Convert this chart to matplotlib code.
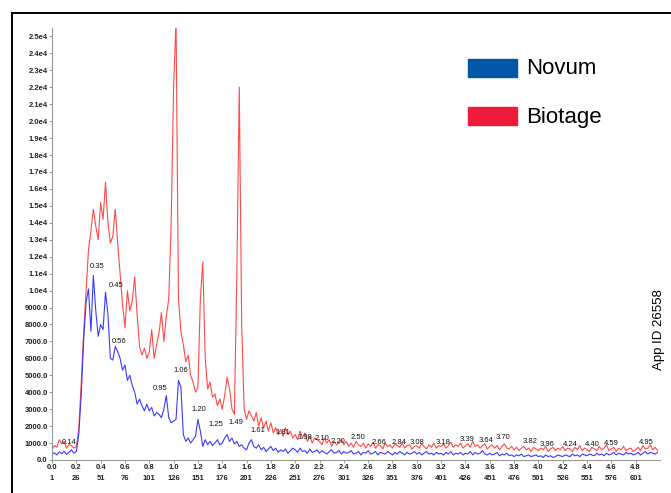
import numpy as np
import matplotlib.pyplot as plt
from matplotlib.lines import Line2D
from matplotlib.patches import Rectangle

plt.rcParams['font.family'] = ['Liberation Sans', 'DejaVu Sans']

# elution volume axis (CV), one reading every 0.02
step = 0.02

novum = [
    350, 420, 300, 480, 380, 520, 330, 450, 600, 400,
    500, 1500, 3800, 7000, 9300, 10100, 7600, 10900, 8800, 7300,
    8000, 7700, 9900, 8600, 6000, 5900, 6700, 6400, 6000, 5300,
    5600, 4700, 5000, 4400, 4000, 3300, 3600, 3200, 2900, 3300,
    2900, 3100, 2600, 2800, 2700, 2500, 3000, 3800, 2500, 2200,
    2300, 2400, 4700, 4300, 1500, 1100, 1300, 1000, 1200, 1400,
    2400, 1700, 800, 1200, 900, 1100, 850, 1000, 1200, 900,
    1000, 1300, 1500, 1100, 1300, 950, 1100, 800, 900, 700,
    600, 1000, 1200, 800, 700, 900, 600, 750, 500, 650,
    800, 550, 700, 450, 600, 500, 650, 400, 550, 700,
    600, 450, 700, 500, 550, 400, 650, 450, 500, 600,
    400, 550, 450, 350, 500, 600, 400, 450, 550, 350,
    500, 400, 450, 550, 350, 400, 500, 300, 450, 400,
    550, 350, 400, 500, 300, 450, 400, 350, 500, 400,
    300, 450, 350, 500, 400, 300, 450, 350, 400, 500,
    350, 450, 300, 400, 500, 350, 400, 300, 450, 350,
    400, 300, 450, 350, 500, 300, 400, 350, 450, 300,
    400, 350, 500, 300, 450, 350, 400, 550, 350, 300,
    400, 300, 350, 450, 250, 350, 300, 400, 250, 300,
    200, 300, 250, 350, 200, 250, 300, 200, 250, 300,
    200, 250, 150, 300, 200, 250, 150, 200, 300, 250,
    200, 300, 250, 200, 350, 250, 300, 200, 350, 300,
    250, 350, 300, 250, 400, 300, 350, 250, 400, 300,
    350, 450, 300, 400, 350, 300, 450, 350, 400, 300,
    350, 450, 300, 400, 500, 350, 450, 400, 350, 450,
]

biotage = [
    600, 850, 750, 1200, 950, 1100, 700, 900, 850, 700,
    800, 1800, 4500, 7500, 10000, 12400, 13500, 14800, 13800, 13000,
    15200, 14200, 16400, 14000, 12800, 13200, 14800, 12800, 11000, 9200,
    7800, 10000, 8800, 9400, 10800, 8600, 6700, 6200, 6600, 6000,
    6400, 7700, 6000, 6800, 7500, 8700, 7000, 8500, 9500, 14000,
    22000, 26000, 9500, 7600, 6800, 5800, 6200, 5000, 4600, 4000,
    4300, 9500, 11700, 6000, 4200, 4600, 3700, 3900, 3200, 3600,
    3000, 3800, 4900, 4200, 3000, 2700, 11000, 22000, 8000, 3000,
    2400, 2900, 2600, 2300, 2800, 2000, 2500, 1900, 2300, 1700,
    2200, 1600, 1900, 1500, 1800, 1400, 1900, 1500, 1700, 1300,
    1500, 1200, 1700, 1300, 1600, 1100, 1400, 1000, 1300, 1200,
    1100, 900, 1300, 1000, 1200, 800, 1100, 900, 1000, 1200,
    900, 1100, 800, 1000, 750, 1100, 900, 800, 1000, 700,
    950, 800, 1050, 700, 900, 850, 650, 1000, 800, 900,
    700, 950, 850, 750, 1000, 700, 850, 900, 650, 800,
    850, 700, 950, 800, 650, 900, 750, 1000, 700, 850,
    800, 950, 700, 850, 1050, 750, 900, 800, 1000, 700,
    850, 950, 750, 1100, 800, 900, 700, 850, 950, 650,
    800, 900, 700, 850, 600, 800, 950, 700, 650, 800,
    600, 750, 550, 700, 800, 600, 700, 500, 750, 650,
    550, 700, 600, 800, 500, 650, 750, 550, 700, 600,
    800, 550, 700, 650, 500, 750, 600, 850, 550, 700,
    600, 500, 750, 650, 550, 800, 600, 700, 900, 550,
    650, 750, 500, 700, 600, 800, 550, 650, 700, 500,
    600, 750, 550, 850, 650, 700, 900, 600, 750, 550,
]

# peak annotations: label, x, y
peak_labels = ['0.14', '0.35', '0.45', '0.56', '0.95', '1.06', '1.20', '1.25',
               '1.49', '1.61', '1.81', '1.98', '2.10', '2.20', '2.50', '2.66',
               '2.84', '3.08', '3.18', '3.39', '3.64', '3.70', '3.82', '3.96',
               '4.24', '4.40', '4.59', '4.95']
peak_x = [0.14, 0.37, 0.53, 0.55, 0.89, 1.06, 1.21, 1.35, 1.51, 1.69, 1.90,
          2.08, 2.22, 2.35, 2.52, 2.69, 2.85, 3.00, 3.22, 3.41, 3.57, 3.71,
          3.93, 4.07, 4.26, 4.44, 4.60, 4.89]
peak_y = [800, 11200, 10100, 6800, 4000, 5100, 2800, 1900, 2000, 1550, 1400,
          1150, 1050, 900, 1150, 850, 850, 800, 850, 1000, 950, 1100, 900, 700,
          700, 700, 750, 850]

x_ticks = [0.0, 0.2, 0.4, 0.6, 0.8, 1.0, 1.2, 1.4, 1.6, 1.8, 2.0, 2.2, 2.4,
           2.6, 2.8, 3.0, 3.2, 3.4, 3.6, 3.8, 4.0, 4.2, 4.4, 4.6, 4.8]
fractions = [1, 26, 51, 76, 101, 126, 151, 176, 201, 226, 251, 276, 301,
             326, 351, 376, 401, 426, 451, 476, 501, 526, 551, 576, 601]

x = np.arange(len(novum)) * step

fig = plt.figure(figsize=(6.71, 4.93), dpi=100)
ax = fig.add_axes([52/671, 1 - 460/493, 608/671, 432/493])

ax.plot(x, biotage, color='#ff4a4a', lw=0.8)
ax.plot(x, novum, color='#3a3aff', lw=0.8)

for lab, px, py in zip(peak_labels, peak_x, peak_y):
    ax.text(px, py, lab, fontsize=5.5, ha='center', va='bottom', color='#111111')

ax.set_xlim(0, 5.0)
ax.set_ylim(0, 25500)

yt = np.arange(0, 25001, 1000)
ylabs = [f'{v:.1f}' if v < 10000 else f'{v/1e4:.1f}e4' for v in yt]
ax.set_yticks(yt)
ax.set_yticklabels(ylabs)
ax.set_xticks(x_ticks)
ax.set_xticklabels([f'{t:.1f}\n{f}' for t, f in zip(x_ticks, fractions)])

for lab in ax.get_xticklabels() + ax.get_yticklabels():
    lab.set_fontsize(5.5)
    lab.set_fontweight('bold')
    lab.set_color('#222222')
for lab in ax.get_xticklabels():
    lab.set_linespacing(1.75)
ax.tick_params(axis='both', length=2, width=0.6, color='#888888', pad=1)

for side in ['top', 'right']:
    ax.spines[side].set_visible(False)
for side in ['left', 'bottom']:
    ax.spines[side].set_color('#999999')
    ax.spines[side].set_linewidth(0.8)

# legend
fig.add_artist(Rectangle((468/671, 1 - 77/493), 49/671, 18/493,
                         transform=fig.transFigure, color='#0057a8'))
fig.add_artist(Rectangle((468/671, 1 - 125/493), 49/671, 18/493,
                         transform=fig.transFigure, color='#ee1b3b'))
fig.text(526/671, 1 - 69/493, 'Novum', fontsize=16, va='center', ha='left')
fig.text(526/671, 1 - 117/493, 'Biotage', fontsize=16, va='center', ha='left')

fig.text(659/671, 1 - 330/493, 'App ID 26558', rotation=90, fontsize=9.5,
         va='center', ha='center')

# outer frame (left and top edges only)
fig.add_artist(Line2D([12/671, 12/671], [0, 1 - 13/493], color='black', lw=1.4,
                      transform=fig.transFigure))
fig.add_artist(Line2D([12/671, 1], [1 - 13/493, 1 - 13/493], color='black', lw=1.4,
                      transform=fig.transFigure))

fig.savefig('out.png', dpi=100)
